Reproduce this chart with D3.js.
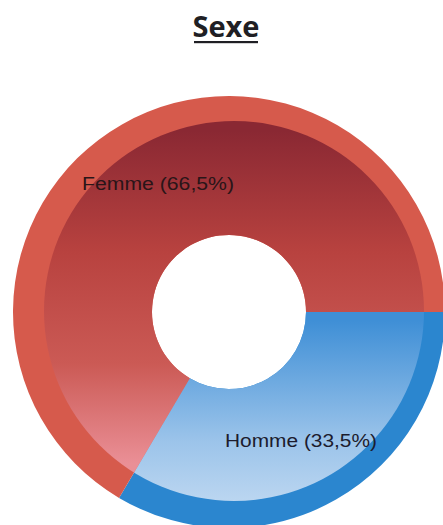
<!DOCTYPE html>
<html lang="fr">
    <head>
        <meta charset="UTF-8">
        <script src="https://cdn.jsdelivr.net/npm/d3@7/dist/d3.min.js"></script>
        <title>Sexe</title>
        <style>
            body { margin: 0; background: #fff; }
            .title { font-family: "Open Sans", sans-serif; font-weight: bold; font-size: 29px; fill: #1f1f24; }
            .lbl { font-family: "Liberation Sans", Arial, sans-serif; font-size: 18px; }
        </style>
    </head>
    <body>
        <svg id="canvas" width="443" height="525"></svg>
        <script>
            var categories = ["Homme", "Femme"];
            var values = [33.5, 66.5];
            var labels = ["Homme (33,5%)", "Femme (66,5%)"];

            var ringColors = ["#2b86cf", "#d65a4c"];
            var gradStops = [
                [[0.52, "#3f8fd6"], [0.8, "#9cc4ea"], [0.97, "#c2daf2"]],
                [[0.08, "#8a2833"], [0.36, "#b8423f"], [0.62, "#cb5a55"], [0.85, "#ea8f96"]]
            ];

            var svg = d3.select("svg#canvas"),
                cx = 229, cy = 312,
                rOuter = 216, rHole = 77;

            // title
            svg.append("text").attr("class", "title")
                .attr("x", 226).attr("y", 37)
                .attr("text-anchor", "middle").text("Sexe");
            svg.append("rect").attr("x", 194).attr("y", 41)
                .attr("width", 64).attr("height", 2.2).attr("fill", "#1f1f24");

            var defs = svg.append("defs");
            gradStops.forEach(function(stops, i) {
                defs.append("linearGradient").attr("id", "grad" + i)
                    .attr("gradientUnits", "userSpaceOnUse")
                    .attr("x1", 0).attr("y1", -rOuter)
                    .attr("x2", 0).attr("y2", rOuter)
                    .selectAll("stop").data(stops).enter().append("stop")
                    .attr("offset", function(s) { return s[0]; })
                    .attr("stop-color", function(s) { return s[1]; });
            });
            // inner bevelled disc, slightly off centre
            defs.append("clipPath").attr("id", "inner")
                .append("circle").attr("cx", 5).attr("cy", -1).attr("r", 190);

            var pie = d3.pie().sort(null).value(function(d) { return d; })
                .startAngle(Math.PI / 2).endAngle(Math.PI / 2 + 2 * Math.PI);
            var arcs = pie(values);
            var arc = d3.arc().innerRadius(rHole).outerRadius(rOuter);

            var g = svg.append("g").attr("transform", "translate(" + cx + "," + cy + ")");
            g.selectAll("path.ring").data(arcs).enter().append("path")
                .attr("class", "ring").attr("d", arc)
                .attr("fill", function(d, i) { return ringColors[i]; });

            g.append("g").attr("clip-path", "url(#inner)")
                .selectAll("path").data(arcs).enter().append("path")
                .attr("d", arc)
                .attr("fill", function(d, i) { return "url(#grad" + i + ")"; });

            var labelPos = [[225, 447], [82, 190]];
            var labelColors = ["#1c1c2e", "#2a1518"];
            svg.selectAll("text.lbl").data(labels).enter().append("text")
                .attr("class", "lbl")
                .attr("x", function(d, i) { return labelPos[i][0]; })
                .attr("y", function(d, i) { return labelPos[i][1]; })
                .attr("textLength", 152).attr("lengthAdjust", "spacingAndGlyphs")
                .attr("fill", function(d, i) { return labelColors[i]; })
                .text(function(d) { return d; });
        </script>
    </body>
</html>
